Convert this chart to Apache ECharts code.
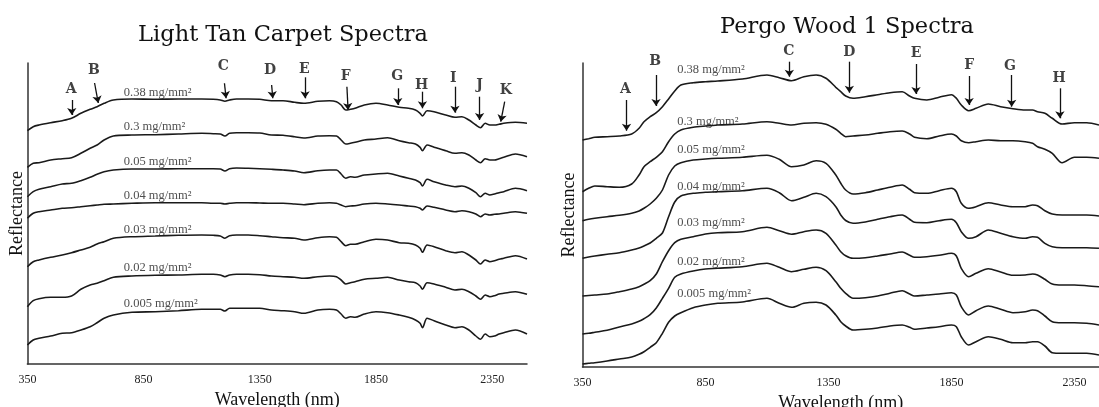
<!DOCTYPE html>
<html>
<head>
<meta charset="utf-8">
<script src="https://cdn.jsdelivr.net/npm/echarts@6/dist/echarts.min.js"></script>
<style>
  html, body { margin: 0; padding: 0; background: #fff; }
  #chart { width: 1099px; height: 407px; }
</style>
</head>
<body>
<div id="chart"></div>
<script>
// wavelength (nm) of the sampled points, carpet panel
const carpetWl = [350,375,400,450,500,540,580,620,650,680,720,800,900,1000,1100,1150,1180,1200,1220,1250,1300,1350,1400,1450,1500,1540,1600,1650,1680,1700,1720,1740,1760,1800,1850,1900,1950,1990,2020,2040,2050,2070,2100,2150,2190,2220,2250,2280,2300,2320,2340,2360,2380,2400,2450,2500];
// reflectance (stacked, arbitrary units)
const carpet038 = [233.3,237.3,239,241.3,243.3,245.7,250.7,254.7,257.3,260.7,264,265,264.7,265,265,264.7,264,262.7,264,265,265,264.7,263.3,263.3,261.7,260.7,262.7,263.3,262.3,259,254,254.7,255.7,259,260.7,259,256.7,255.7,254,250.7,248,253.3,252.3,249,246.7,247.3,244,239,236.3,240.7,239,239,239.7,240.7,241.7,240.7];
const carpet03 = [196.7,200.7,201.3,204,205.3,206.3,210.7,215.7,219,224,228,229,229.3,230,230.7,230.3,230,228,230.7,231.3,231.3,231,229,228.7,227.3,226,228,228.3,228,224,220,220.7,221.7,224,225,226.3,223.3,221.3,220,216.7,213.3,219,216.7,213.3,210.7,211.3,209,204,201.3,205.3,204,204,205.3,206.7,210,207.3];
const carpet005 = [167.3,172.3,174.7,177.3,180,180.7,183.3,186.7,189.7,192.3,194,195,195,195.3,195.3,195.3,195,193,195.3,196,195.7,195.3,194.7,194,193,191.3,193.3,194,194,190,185.7,187.3,186.7,189,190,190.7,188,185.7,184,181.3,178,184.7,182.3,179,177.3,178,175.7,171.3,167.3,170.7,169,170,171.3,172.3,175.7,173.3];
const carpet004 = [145.7,150.7,152.3,154,155.7,156.3,157.3,158.3,159,159.7,160,160.7,161.3,161.3,161.3,160.7,160.7,160,160.7,161.3,161.3,161,160.7,160.7,160,159.3,160.7,161.3,160.7,159,157.3,158,158.3,160,160.7,160,159,158,157.3,155.7,154,158,156.7,154,152.3,153.3,152.3,150,147.3,150,149,149.7,150,150.7,152.3,150.7];
const carpet003 = [97.3,102.3,104,106.7,109,111.3,114,116.7,120,122.3,125.7,127.3,128,128.7,129,128.7,128,125.7,128.3,129,129,128.3,127.3,126.3,125.7,124,126.3,127.3,126.7,122.3,118.3,119.7,119.7,122.3,124.7,124,121.3,120.7,119,115.7,111.7,119,117.3,113.3,111.3,112.3,109,104,100,104,102.3,103.3,104.7,105.7,108.3,105];
const carpet002 = [57.3,63.3,65.3,66.7,66.7,68,74.7,79,80.7,83.3,86.7,88,88.7,89,89.7,89.7,89,87.3,89,89.7,89.7,89.3,88,87.3,86.7,85.7,87.3,88,87.3,84,80,81.3,82.3,84.7,85.7,86.7,84,82.3,81.3,78,74.7,81.3,80,76.7,74,74.7,72.3,68,64.7,69,67.3,68.3,70,70.7,72.3,69.7];
const carpet0005 = [19,24,25.7,28,30.7,31.3,34,37.3,41.3,45.7,49,51.7,52.3,53.3,54.7,54.7,54.7,53,55.7,55.7,55.7,55.7,54,53.3,52.3,50.7,54,54.7,54,50,45.7,47.3,46.7,50,52.3,51.3,49,46.7,44,40.7,36.3,45.7,43.3,39,36.3,37.3,34,28,24.7,30,27.3,28,30,31.3,34,30];

// wavelength (nm) of the sampled points, pergo panel
const pergoWl = [350,375,400,450,500,550,580,600,625,650,675,700,725,750,800,850,900,1000,1100,1150,1200,1250,1300,1340,1380,1400,1420,1450,1500,1550,1600,1650,1680,1700,1750,1800,1850,1870,1890,1920,1950,2000,2050,2100,2150,2180,2200,2230,2260,2300,2350,2400,2450];
const pergo038 = [227,228.3,229.7,230.3,231,233,238.7,245.3,250.3,254.3,260.3,268,276,282,284.3,285.3,286,288,292,289.3,286.3,290.3,292,288.7,279.7,275.3,271,268.7,270.3,272.3,274.3,275.3,271,268.7,267,269.7,272.3,268.7,262,256.3,258.7,263,260.3,258.3,257,257,255.3,253.7,248.7,243,244.3,244.3,242];
const pergo03 = [175.3,178.7,181,180.3,179.7,183,192,200.3,205.3,209.7,215.3,225.3,233,237,239.7,241,242,243,245.3,243.7,242,243.7,244.3,242.7,237.7,233.7,230.3,231,232,233.7,235.3,236,233,229.7,228.3,231,233,231,226.3,224.3,225.3,227,226.3,226.3,225.3,223.7,220.3,217.7,213.7,204.3,209.7,209.7,208.7];
const pergo005 = [146.3,147.7,148.7,150.3,151.7,153.7,156,158.7,163,168.7,177,192,201,204.3,207,208,208.7,209.7,211.7,207.7,200.3,202,206.3,203.7,192,183.7,177,173,174.3,177,179.7,182,177.7,174.3,173.7,176.3,178.7,175.3,163.7,158.7,160.3,164.3,162,160.3,160.3,162,161.3,156.3,153,152,152,152,151];
const pergo004 = [108.7,110,111,112.7,114.3,117,119,121,124,128.7,134,150.3,165,171,173.7,174.7,175.3,176.3,178.7,174.3,166.3,169.7,173.7,170.3,160.3,152,146.5,143.7,145,147.7,150.3,152,147.7,144.7,144.3,146.3,147.7,144.3,135.3,128.7,130.3,137,133.7,130.3,128.7,130.3,129.7,123.7,120.3,119.3,119.3,119.3,118.7];
const pergo003 = [71,71.5,72,73,75.3,78,80.3,82.7,86.3,93,105.3,116.3,124.3,127.7,130.3,133,134.3,135.3,139.7,136.3,132.7,135.3,137,133.7,122,115.3,111.3,108.7,109.3,111,113,115,111.7,109.7,110.3,111.7,113.7,111,98.7,90.3,93.7,98.3,95,91.7,92,93,92,87.7,83,82,82,81.3,80.3];
const pergo002 = [33,33.7,34.7,36.7,40,43,45.7,48.3,52.3,59,68.7,78.7,89.7,93,96,98,98.7,100.3,103.7,99.7,95.3,97.7,99.7,96.3,85.3,78.7,73.7,68.7,69.3,71,73.7,76.3,73,71,72,73,74.3,72,60.3,52,56.3,61,57.7,54.3,55.3,57,56.3,51,45.3,44.3,44.3,43.7,42];
const pergo0005 = [3,3.7,4.3,6,8,10,12.7,15.3,19.7,24.3,33.7,44.7,51,54.3,59.3,62,63.7,65,68.7,63.7,59.7,63.7,64.7,62,52,45.3,41,37,37.7,39,41,42,39.7,37.7,39,40.3,42,40.3,30.3,22,25.3,30.3,27.7,24.3,24.3,25.3,25.3,21,14.3,13.7,13.7,13.7,12];

const loadNames = ['0.38 mg/mm²','0.3 mg/mm²','0.05 mg/mm²','0.04 mg/mm²','0.03 mg/mm²','0.02 mg/mm²','0.005 mg/mm²'];
const tickLabels = [350, 850, 1350, 1850, 2350];

// curve labels
const carpetLabelX = 763;
const carpetLabelY = [271.3,237.3,202.3,168,134.7,96.7,60.7];
const pergoLabelX = 733;
const pergoLabelY = [297,245.3,217,180.3,144.7,105.3,73.7];

// absorption feature markers
const carpetLetters = ['A','B','C','D','E','F','G','H','I','J','K'];
const carpetLetterX = [538,636,1193,1394,1542,1720,1941,2047,2183,2296,2409];
const carpetLetterY = [274.7,293.3,297.3,293.3,294.7,288,287.3,279,285.7,279,274];
const carpetArrowX0 = [541,639,1198,1401,1545,1725,1944,2050,2190,2296,2404];
const carpetArrowY0 = [264,281,280.7,279,286.7,277.3,275.7,272.3,277.3,267.3,262.3];
const carpetArrowX1 = [541,655,1205,1406,1545,1730,1944,2050,2190,2296,2387];
const carpetArrowY1 = [249,261,265.7,265.7,265.7,254,259,255.7,251.3,244,242.3];

const pergoLetters = ['A','B','C','D','E','F','G','H'];
const pergoLetterX = [525,645,1189,1435,1706,1922,2088,2288];
const pergoLetterY = [277.7,305.3,315.3,314.3,313.7,302,300.3,288.7];
const pergoArrowX = [529,649,1191,1435,1706,1922,2095,2291];
const pergoArrowY0 = [267,292,305.3,305.3,303,291,292,278.7];
const pergoArrowY1 = [236.3,261,290.3,274.3,273,262,260.3,248.7];

const carpetCurves = [carpet038, carpet03, carpet005, carpet004, carpet003, carpet002, carpet0005];
const pergoCurves = [pergo038, pergo03, pergo005, pergo004, pergo003, pergo002, pergo0005];

const serif = 'Liberation Serif';
const ink = '#1a1a1a';

function pairs(xs, ys) {
    return xs.map((x, i) => [x, ys[i]]);
}

function curveSeries(wl, curves, idx) {
    return curves.map((ys, i) => ({
        type: 'line',
        name: loadNames[i],
        xAxisIndex: idx,
        yAxisIndex: idx,
        data: pairs(wl, ys),
        showSymbol: false,
        smooth: 0.3,
        lineStyle: { color: ink, width: 1.6 },
        silent: true
    }));
}

function labelSeries(x, ys, idx) {
    return {
        type: 'scatter',
        xAxisIndex: idx,
        yAxisIndex: idx,
        symbolSize: 1,
        itemStyle: { color: 'rgba(0,0,0,0)' },
        clip: false,
        silent: true,
        data: ys.map((y, i) => ({ name: loadNames[i], value: [x, y] })),
        label: {
            show: true, position: 'right', distance: 0,
            formatter: '{b}', color: '#222', fontFamily: serif, fontSize: 12.5
        }
    };
}

function letterSeries(letters, xs, ys, idx) {
    return {
        type: 'scatter',
        xAxisIndex: idx,
        yAxisIndex: idx,
        symbolSize: 1,
        itemStyle: { color: 'rgba(0,0,0,0)' },
        clip: false,
        silent: true,
        data: letters.map((t, i) => ({ name: t, value: [xs[i], ys[i]] })),
        label: {
            show: true, position: 'inside',
            formatter: '{b}', color: '#111', fontFamily: 'DejaVu Serif', fontWeight: 'bold', fontSize: 14
        }
    };
}

function arrowSeries(x0, y0, x1, y1, idx) {
    return {
        type: 'lines',
        coordinateSystem: 'cartesian2d',
        xAxisIndex: idx,
        yAxisIndex: idx,
        clip: false,
        silent: true,
        symbol: ['none', 'arrow'],
        symbolSize: [0, 7],
        lineStyle: { color: '#111', width: 1.3, opacity: 1 },
        data: x0.map((x, i) => ({ coords: [[x, y0[i]], [x1[i], y1[i]]] }))
    };
}

function xAxis(idx, max, gap, margin) {
    return {
        type: 'value', gridIndex: idx, min: 350, max: max, interval: 500,
        name: 'Wavelength (nm)', nameLocation: 'middle', nameGap: gap,
        nameTextStyle: { fontFamily: serif, fontSize: 18, color: '#111' },
        axisLine: { show: true, onZero: false, lineStyle: { color: '#333', width: 1.5 } },
        axisTick: { show: false },
        splitLine: { show: false },
        axisLabel: {
            margin: margin, fontFamily: serif, fontSize: 12, color: '#222', showMaxLabel: false,
            formatter: v => tickLabels.includes(v) ? String(v) : ''
        }
    };
}

function yAxis(idx, max, gap) {
    return {
        type: 'value', gridIndex: idx, min: 0, max: max,
        name: 'Reflectance', nameLocation: 'middle', nameGap: gap,
        nameTextStyle: { fontFamily: serif, fontSize: 18, color: '#111' },
        axisLine: { show: true, lineStyle: { color: '#333', width: 1.5 } },
        axisTick: { show: false },
        axisLabel: { show: false },
        splitLine: { show: false }
    };
}

const chart = echarts.init(document.getElementById('chart'));
chart.setOption({
    animation: false,
    backgroundColor: '#fff',
    title: [
        { text: 'Light Tan Carpet Spectra', left: 278, top: 19, textAlign: 'center',
          textStyle: { fontFamily: 'DejaVu Serif', fontWeight: 'normal', fontSize: 22.5, color: '#111' } },
        { text: 'Pergo Wood 1 Spectra', left: 842, top: 11, textAlign: 'center',
          textStyle: { fontFamily: 'DejaVu Serif', fontWeight: 'normal', fontSize: 22.5, color: '#111' } }
    ],
    grid: [
        { left: 27.4, right: 572, top: 63, bottom: 43, outerBoundsMode: 'none', containLabel: false },
        { left: 582.5, right: 0, top: 63, bottom: 40, outerBoundsMode: 'none', containLabel: false }
    ],
    xAxis: [xAxis(0, 2500, 22, 10), xAxis(1, 2450, 25, 10)],
    yAxis: [yAxis(0, 301, 1), yAxis(1, 304, 4)],
    series: [
        ...curveSeries(carpetWl, carpetCurves, 0),
        ...curveSeries(pergoWl, pergoCurves, 1),
        labelSeries(carpetLabelX, carpetLabelY, 0),
        labelSeries(pergoLabelX, pergoLabelY, 1),
        letterSeries(carpetLetters, carpetLetterX, carpetLetterY, 0),
        letterSeries(pergoLetters, pergoLetterX, pergoLetterY, 1),
        arrowSeries(carpetArrowX0, carpetArrowY0, carpetArrowX1, carpetArrowY1, 0),
        arrowSeries(pergoArrowX, pergoArrowY0, pergoArrowX, pergoArrowY1, 1)
    ]
});
</script>
</body>
</html>
